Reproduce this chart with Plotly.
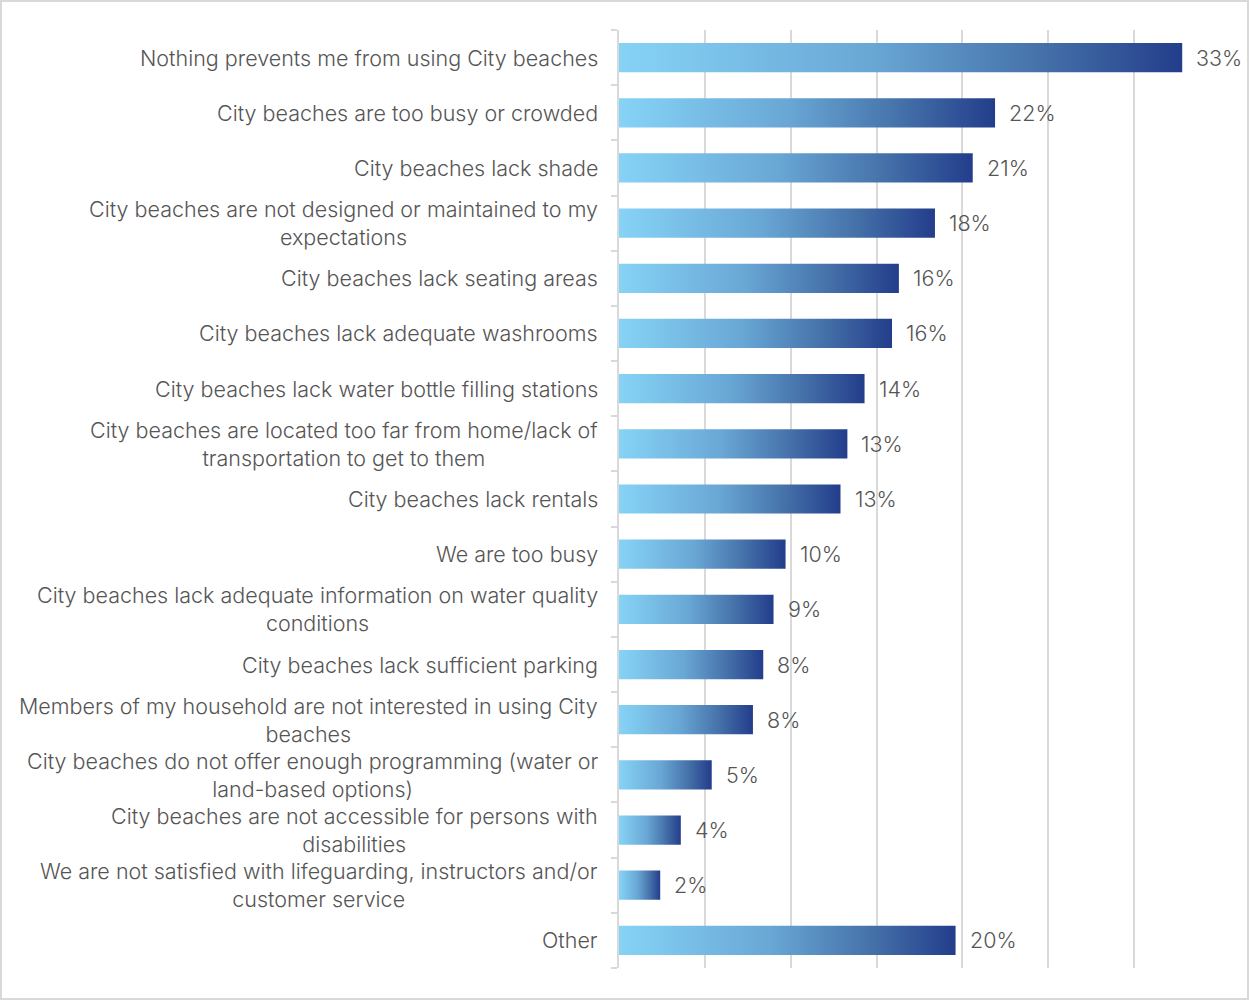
import plotly.graph_objects as go

# Survey responses: what prevents use of City beaches (share of respondents, %)
categories = [
    "Nothing prevents me from using City beaches",
    "City beaches are too busy or crowded",
    "City beaches lack shade",
    "City beaches are not designed or maintained to my<br>expectations",
    "City beaches lack seating areas",
    "City beaches lack adequate washrooms",
    "City beaches lack water bottle filling stations",
    "City beaches are located too far from home/lack of<br>transportation to get to them",
    "City beaches lack rentals",
    "We are too busy",
    "City beaches lack adequate information on water quality<br>conditions",
    "City beaches lack sufficient parking",
    "Members of my household are not interested in using City<br>beaches",
    "City beaches do not offer enough programming (water or<br>land-based options)",
    "City beaches are not accessible for persons with<br>disabilities",
    "We are not satisfied with lifeguarding, instructors and/or<br>customer service",
    "Other",
]
values = [32.8, 21.9, 20.6, 18.4, 16.3, 15.9, 14.3, 13.3, 12.9,
          9.7, 9.0, 8.4, 7.8, 5.4, 3.6, 2.4, 19.6]

# layout geometry
W, H = 1249, 1000
ML, MR, MT, MB = 619, 29, 30, 32
PW, PH = W - ML - MR, H - MT - MB

TEXT = "#555555"
GRID = "#d9d9d9"
FONT = "Inter"
SIZE = 21.5
HALF = 0.265  # half bar thickness in category units

gradient = [[0.0, "#86d3f6"], [0.45, "#69a7d5"], [0.75, "#4571a9"], [1.0, "#233d8b"]]

fig = go.Figure()
n = len(categories)
for i, (cat, v) in enumerate(zip(categories, values)):
    fig.add_trace(go.Scatter(
        x=[0, v, v, 0, 0],
        y=[i - HALF, i - HALF, i + HALF, i + HALF, i - HALF],
        mode="lines",
        line=dict(width=0),
        fill="toself",
        fillgradient=dict(type="horizontal", colorscale=gradient, start=0, stop=v),
        hoverinfo="skip",
        showlegend=False,
    ))
    # value label
    fig.add_annotation(
        x=v, y=i, xref="x", yref="y", text=f"{round(v)}%",
        showarrow=False, xanchor="left", yanchor="middle", xshift=12,
        font=dict(family=FONT, size=SIZE, color=TEXT, weight=300),
    )
    # category label
    fig.add_annotation(
        x=0, y=i, xref="paper", yref="y", text=cat,
        showarrow=False, xanchor="right", yanchor="middle", align="center",
        xshift=-19, font=dict(family=FONT, size=SIZE, color=TEXT, weight=300),
    )

# outer frame around the whole figure
fig.add_shape(
    type="rect", xref="paper", yref="paper",
    x0=(1 - ML) / PW, x1=(W - 1 - ML) / PW,
    y0=(1 - MB) / PH, y1=(H - MB - 1) / PH,
    line=dict(color=GRID, width=2), layer="below",
)

fig.update_layout(
    width=W, height=H,
    margin=dict(l=ML, r=MR, t=MT, b=MB),
    paper_bgcolor="white", plot_bgcolor="white",
    font=dict(family=FONT, size=SIZE, color=TEXT),
    xaxis=dict(
        range=[0, 35], dtick=5, tick0=0, showgrid=True, gridcolor=GRID,
        gridwidth=1.5, zeroline=False, showticklabels=False, ticks="",
        showline=False, fixedrange=True,
    ),
    yaxis=dict(
        range=[n - 0.5, -0.5], showgrid=False, zeroline=False,
        showticklabels=False, ticks="", showline=True, linecolor=GRID,
        linewidth=1.5,
        minor=dict(tickmode="array", tickvals=[k - 0.5 for k in range(n + 1)],
                   ticks="outside", ticklen=6, tickwidth=1.5, tickcolor=GRID),
        fixedrange=True,
    ),
)

fig.write_html("out.html")
